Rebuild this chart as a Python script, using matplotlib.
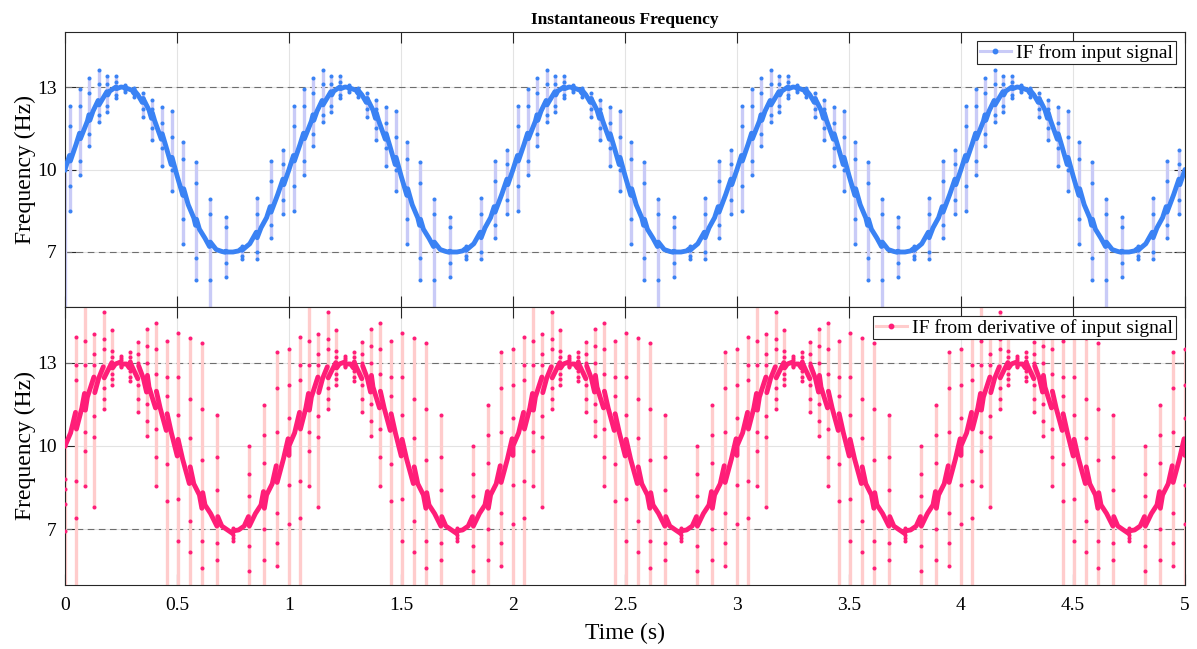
import numpy as np
import matplotlib
matplotlib.use("Agg")
import matplotlib.pyplot as plt
from matplotlib.lines import Line2D

# ---------------- data (one modulation period, repeats every 1 s) ----------------
n_periods = 5
period_t = [0.0, 0.025, 0.05, 0.075, 0.1, 0.125, 0.15, 0.175, 0.2, 0.225,
            0.25, 0.275, 0.3, 0.325, 0.35, 0.375, 0.4, 0.425, 0.45, 0.475,
            0.5, 0.525, 0.55, 0.575, 0.6, 0.625, 0.65, 0.675, 0.7, 0.725,
            0.75, 0.775, 0.8, 0.825, 0.85, 0.875, 0.9, 0.925, 0.95, 0.975, 1.0]

blue_base = [10.0, 10.47, 10.93, 11.36, 11.76, 12.12, 12.43, 12.67, 12.85, 12.96,
             13.0, 12.97, 12.88, 12.72, 12.48, 12.16, 11.78, 11.34, 10.86, 10.33,
             9.78, 9.24, 8.72, 8.24, 7.83, 7.5, 7.25, 7.09, 7.02, 7.0,
             7.0, 7.04, 7.13, 7.3, 7.55, 7.88, 8.25, 8.66, 9.1, 9.55, 10.0]

pink_base = [10.0, 10.47, 10.93, 11.36, 11.76, 12.12, 12.43, 12.67, 12.85, 12.95,
             12.98, 12.95, 12.85, 12.67, 12.43, 12.12, 11.76, 11.36, 10.93, 10.47,
             10.0, 9.53, 9.07, 8.64, 8.24, 7.88, 7.57, 7.33, 7.12, 6.98,
             6.93, 6.98, 7.12, 7.33, 7.57, 7.88, 8.24, 8.64, 9.07, 9.53, 10.0]

# jumps of the IF estimate (time within a period; curve value just before/after;
# extreme and intermediate samples on the jump)
bl_spk_t = [0.022, 0.067, 0.109, 0.150, 0.189, 0.229, 0.268, 0.308, 0.347, 0.388,
            0.432, 0.476, 0.528, 0.585, 0.647, 0.717, 0.789, 0.856, 0.918, 0.975]
bl_spk_pre = [10.51, 11.32, 11.99, 12.51, 12.83, 13.0, 12.98, 12.79, 12.44, 11.86,
              11.1, 10.18, 9.06, 7.97, 7.2, 6.99, 7.12, 7.72, 8.65, 9.65]
bl_spk_post = [10.31, 11.12, 11.79, 12.35, 12.71, 12.94, 12.97, 12.87, 12.58, 12.06,
               11.3, 10.44, 9.3, 8.19, 7.36, 7.03, 7.06, 7.52, 8.45, 9.45]
bl_spk_hi = [12.31, 12.91, 13.31, 13.61, 13.39, 13.39, 13.09, 12.95, 12.79, 12.53,
             12.26, 12.14, 10.99, 10.26, 8.94, 8.29, 7.23, 8.98, 10.30, 10.72]
bl_spk_m1 = [11.6, 12.3, 12.8, 13.1, 13.1, 13.2, 13.05, 12.9, 12.6, 12.2,
             11.7, 11.2, 10.4, 9.5, 8.4, 7.9, 7.15, 8.4, 9.6, 10.2]
bl_spk_m2 = [9.4, 10.3, 11.3, 12.0, 12.3, 12.7, 12.9, 12.75, 12.2, 11.5,
             10.8, 10.0, 8.2, 6.8, 6.0, 6.6, 6.85, 7.0, 8.0, 8.9]
bl_spk_lo = [8.50, 9.80, 10.87, 11.71, 12.09, 12.59, 12.83, 12.65, 11.90, 11.08,
             10.14, 9.22, 7.29, 6.00, 4.0, 6.09, 6.73, 6.73, 7.50, 8.38]
bl_start = [10.0, 4.0]

pk_spk_t = [0.049, 0.089, 0.131, 0.173, 0.211, 0.25, 0.289, 0.327, 0.366, 0.406,
            0.454, 0.503, 0.557, 0.613, 0.68, 0.751, 0.821, 0.888, 0.945, 0.998]
pk_spk_pre = [11.21, 11.89, 12.48, 12.85, 13.0, 13.02, 12.81, 12.42, 11.94, 11.37,
              10.56, 9.64, 8.65, 7.76, 7.12, 6.85, 7.46, 8.36, 9.29, 10.26]
pk_spk_post = [10.61, 11.29, 11.92, 12.45, 12.81, 12.95, 13.01, 12.88, 12.54, 11.97,
               11.16, 10.24, 9.25, 8.32, 7.46, 6.95, 7.12, 7.76, 8.69, 9.66]
pk_spk_hi = [13.91, 15.2, 14.03, 14.83, 14.18, 13.25, 13.37, 13.75, 14.21, 14.42,
             13.79, 14.05, 13.87, 13.69, 11.12, 7.05, 10.01, 11.47, 13.39, 13.49]
pk_spk_u1 = [12.9, 13.79, 13.31, 13.85, 13.4, 13.15, 13.2, 13.3, 13.6, 13.5,
             12.5, 12.47, 11.7, 11.33, 9.6, 7.0, 9.0, 10.4, 12.1, 12.2]
pk_spk_u2 = [12.37, 12.9, 12.9, 13.49, 13.2, 13.1, 13.05, 13.0, 13.0, 12.6,
             11.8, 11.1, 10.3, 9.5, 8.4, 6.98, 8.2, 9.4, 10.5, 11.0]
pk_spk_d1 = [8.75, 10.5, 11.09, 12.1, 12.6, 12.9, 12.7, 12.2, 11.5, 10.6,
             9.35, 8.1, 7.3, 6.6, 6.5, 6.8, 6.4, 7.0, 7.6, 8.6]
pk_spk_d2 = [7.4, 9.83, 10.33, 11.69, 12.4, 12.87, 12.5, 11.7, 10.9, 9.6,
             8.03, 6.59, 6.2, 5.6, 5.9, 6.7, 5.5, 5.9, 6.5, 7.2]
pk_spk_lo = [4.0, 8.57, 7.79, 11.33, 12.19, 12.83, 12.35, 11.21, 10.37, 8.57,
             4.0, 4.0, 4.0, 4.0, 4.0, 6.6, 4.0, 4.0, 5.69, 4.0]
pk_start = [10.0, 8.81, 8.45, 7.91, 6.95, 4.0]

xticks = [0, 0.5, 1, 1.5, 2, 2.5, 3, 3.5, 4, 4.5, 5]
xticklabels = ["0", "0.5", "1", "1.5", "2", "2.5", "3", "3.5", "4", "4.5", "5"]
yticks = [7, 10, 13]

# ---------------- styling ----------------
plt.rcParams['font.family'] = ['Liberation Serif', 'DejaVu Serif']

BLUE = '#3a82f4'
BLUE_L = '#c9cbf7'
PINK = '#ff1e78'
PINK_L = '#ffcccc'


def thick_curve(base, spk_t, pre, post):
    xs, ys = [], []
    for k in range(n_periods):
        events = [(t, 'b', v, None) for t, v in zip(period_t[:-1], base[:-1])]
        events += [(t, 's', a, b) for t, a, b in zip(spk_t, pre, post)]
        events.sort(key=lambda e: e[0])
        for t, kind, a, b in events:
            if kind == 'b':
                if min(abs(t - s) for s in spk_t) < 0.008:
                    continue
                xs.append(t + k)
                ys.append(a)
            else:
                xs += [t + k - 0.002, t + k, t + k + 0.002]
                ys += [a, np.nan, b]
    xs.append(period_t[-1] + n_periods - 1)
    ys.append(base[-1])
    return np.array(xs), np.array(ys)


fig = plt.figure(figsize=(11.97, 6.49), dpi=100)
ax1 = fig.add_axes([65 / 1197, 1 - 307 / 649, 1120 / 1197, 275 / 649])
ax2 = fig.add_axes([65 / 1197, 1 - 585 / 649, 1120 / 1197, 278 / 649])


def draw_panel(ax, base, spk_t, pre, post, spk_arrays, start_vals,
               strong, light, label):
    ct, cv = thick_curve(base, spk_t, pre, post)
    st_all = []
    for k in range(n_periods):
        st_all += [t + k for t in spk_t]
    st_all = np.array(st_all)
    hi = np.tile(spk_arrays[0], n_periods)
    lo = np.tile(spk_arrays[-1], n_periods)
    # light connecting line (jumps)
    ax.vlines(st_all, lo, hi, color=light, lw=2.4, zorder=2)
    ax.vlines([0.0], min(start_vals), max(start_vals), color=light, lw=2.4, zorder=2)
    # dense samples -> thick strong curve
    ax.plot(ct, cv, color=strong, lw=3.5, zorder=3, solid_capstyle='round',
            solid_joinstyle='round')
    for arr in spk_arrays:
        ax.plot(st_all, np.tile(arr, n_periods), 'o', color=strong, ms=2.9,
                mec='none', zorder=4)
    ax.plot([0.0] * len(start_vals), start_vals, 'o', color=strong, ms=2.9,
            mec='none', zorder=4)

    for yv in (7, 13):
        ax.axhline(yv, color='#6e6e6e', lw=0.8, ls=(0, (6, 4)), zorder=1.5)

    ax.set_xlim(0, 5)
    ax.set_ylim(5, 15)
    ax.set_xticks(xticks)
    ax.set_yticks(yticks)
    ax.set_yticklabels([str(v) for v in yticks])
    ax.grid(True, color='#e3e3e3', lw=0.8, zorder=0)
    ax.set_axisbelow(True)
    ax.tick_params(direction='in', length=8, width=0.8, top=True, right=True,
                   labelsize=14, color='#262626')
    ax.tick_params(axis='y', pad=6)
    ax.tick_params(axis='x', pad=9)
    for sp in ax.spines.values():
        sp.set_color('#262626')
        sp.set_linewidth(0.8)
    ax.set_ylabel('Frequency (Hz)', fontsize=17, labelpad=0.5)
    handle = Line2D([], [], color=light, lw=2.2, marker='o', ms=3.2,
                    mfc=strong, mec=strong)
    leg = ax.legend([handle], [label], loc='upper right', fontsize=14,
                    frameon=True, fancybox=False, framealpha=1,
                    edgecolor='#262626', borderpad=0.15, handlelength=1.6,
                    handletextpad=0.3, borderaxespad=0.45, numpoints=1)
    leg.get_frame().set_linewidth(0.8)
    leg.set_zorder(10)


draw_panel(ax1, blue_base, bl_spk_t, bl_spk_pre, bl_spk_post,
           [bl_spk_hi, bl_spk_m1, bl_spk_m2, bl_spk_lo], bl_start,
           BLUE, BLUE_L, 'IF from input signal')
draw_panel(ax2, pink_base, pk_spk_t, pk_spk_pre, pk_spk_post,
           [pk_spk_hi, pk_spk_u1, pk_spk_u2, pk_spk_d1, pk_spk_d2, pk_spk_lo],
           pk_start, PINK, PINK_L, 'IF from derivative of input signal')

ax1.set_xticklabels([])
ax2.set_xticklabels(xticklabels)
ax2.set_xlabel('Time (s)', fontsize=17, labelpad=6)
ax1.set_title('Instantaneous Frequency', fontsize=12.5, fontweight='bold', pad=6)

fig.savefig('out.png', dpi=100)
